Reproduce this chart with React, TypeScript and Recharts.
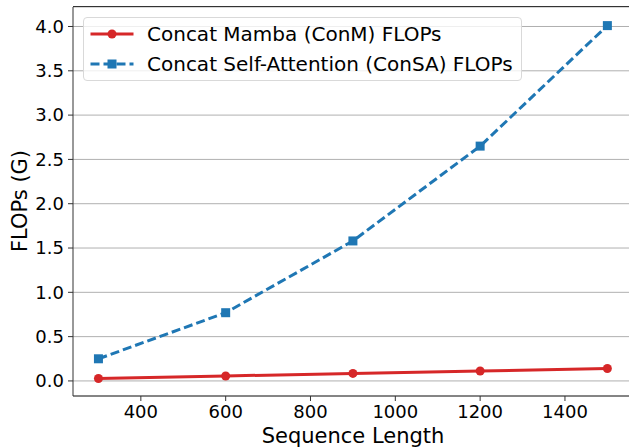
import { LineChart, Line, XAxis, YAxis, CartesianGrid } from "recharts";

const seqLengths = [300, 600, 900, 1200, 1500];
const conMFlops = [0.028, 0.056, 0.085, 0.112, 0.14];
const conSAFlops = [0.25, 0.77, 1.58, 2.65, 4.01];
const xTicks = [400, 600, 800, 1000, 1200, 1400];
const yTicks = [0, 0.5, 1, 1.5, 2, 2.5, 3, 3.5, 4];

const data = seqLengths.map((len, i) => ({
  len,
  conM: conMFlops[i],
  conSA: conSAFlops[i],
}));

const RED = "#d62728";
const BLUE = "#1f77b4";
const FONT = "'DejaVu Sans', sans-serif";

const SquareDot = (props: any) => {
  const { cx, cy } = props;
  if (cx == null || cy == null) return null;
  return <rect x={cx - 4.5} y={cy - 4.5} width={9} height={9} fill={BLUE} />;
};

const CircleDot = (props: any) => {
  const { cx, cy } = props;
  if (cx == null || cy == null) return null;
  return <circle cx={cx} cy={cy} r={4.5} fill={RED} />;
};

const LegendBox = () => (
  <div
    style={{
      position: "absolute",
      left: 83,
      top: 17,
      border: "1px solid #d9d9d9",
      borderRadius: 4,
      background: "rgba(255,255,255,0.8)",
      padding: "1px 8px 1px 6px",
      fontFamily: FONT,
      fontSize: 20,
      color: "#000",
      lineHeight: "30px",
    }}
  >
    <div style={{ display: "flex", alignItems: "center" }}>
      <svg width={44} height={12} style={{ marginRight: 13 }}>
        <line x1={0.5} y1={6} x2={43.5} y2={6} stroke={RED} strokeWidth={3} />
        <circle cx={22} cy={6} r={4.5} fill={RED} />
      </svg>
      Concat Mamba (ConM) FLOPs
    </div>
    <div style={{ display: "flex", alignItems: "center" }}>
      <svg width={44} height={12} style={{ marginRight: 13 }}>
        <line x1={0.5} y1={6} x2={43.5} y2={6} stroke={BLUE} strokeWidth={3} strokeDasharray="9 4" />
        <rect x={17.5} y={1.5} width={9} height={9} fill={BLUE} />
      </svg>
      Concat Self-Attention (ConSA) FLOPs
    </div>
  </div>
);

const YLabel = () => (
  <text x={20} y={201} transform="rotate(-90 20 201)" textAnchor="middle" dominantBaseline="central" fill="#000" fontSize={21} fontFamily={FONT}>
    FLOPs (G)
  </text>
);

const XLabel = () => (
  <text x={353} y={436} textAnchor="middle" dominantBaseline="central" fill="#000" fontSize={21} fontFamily={FONT}>
    Sequence Length
  </text>
);

export default function App() {
  return (
    <div style={{ position: "absolute", left: 0, top: 0, width: 629, height: 448, overflow: "hidden", background: "#fff" }}>
      <LineChart width={629} height={448} data={data} margin={{ top: 7, right: 0, bottom: 0, left: 0 }}>
        <CartesianGrid horizontal={true} vertical={false} stroke="#b0b0b0" strokeWidth={1} />
        <XAxis
          dataKey="len"
          type="number"
          domain={[240, 1551]}
          ticks={xTicks}
          allowDataOverflow
          height={52}
          stroke="#333"
          tickSize={5}
          tickMargin={4}
          tick={{ fill: "#000", fontSize: 18, fontFamily: FONT }}
          label={<XLabel />}
        />
        <YAxis
          type="number"
          domain={[-0.17, 4.22]}
          ticks={yTicks}
          allowDataOverflow
          width={73}
          stroke="#333"
          tickSize={5}
          tickMargin={4}
          tickFormatter={(v: number) => v.toFixed(1)}
          tick={{ fill: "#000", fontSize: 18, fontFamily: FONT }}
          label={<YLabel />}
        />
        <Line
          dataKey="conM"
          stroke={RED}
          strokeWidth={3}
          dot={<CircleDot />}
          activeDot={false}
          isAnimationActive={false}
        />
        <Line
          dataKey="conSA"
          stroke={BLUE}
          strokeWidth={3}
          strokeDasharray="9 4"
          dot={<SquareDot />}
          activeDot={false}
          isAnimationActive={false}
        />
      </LineChart>
      <div style={{ position: "absolute", left: 73, top: 6, width: 556, height: 1, background: "#333" }} />
      <LegendBox />
    </div>
  );
}
